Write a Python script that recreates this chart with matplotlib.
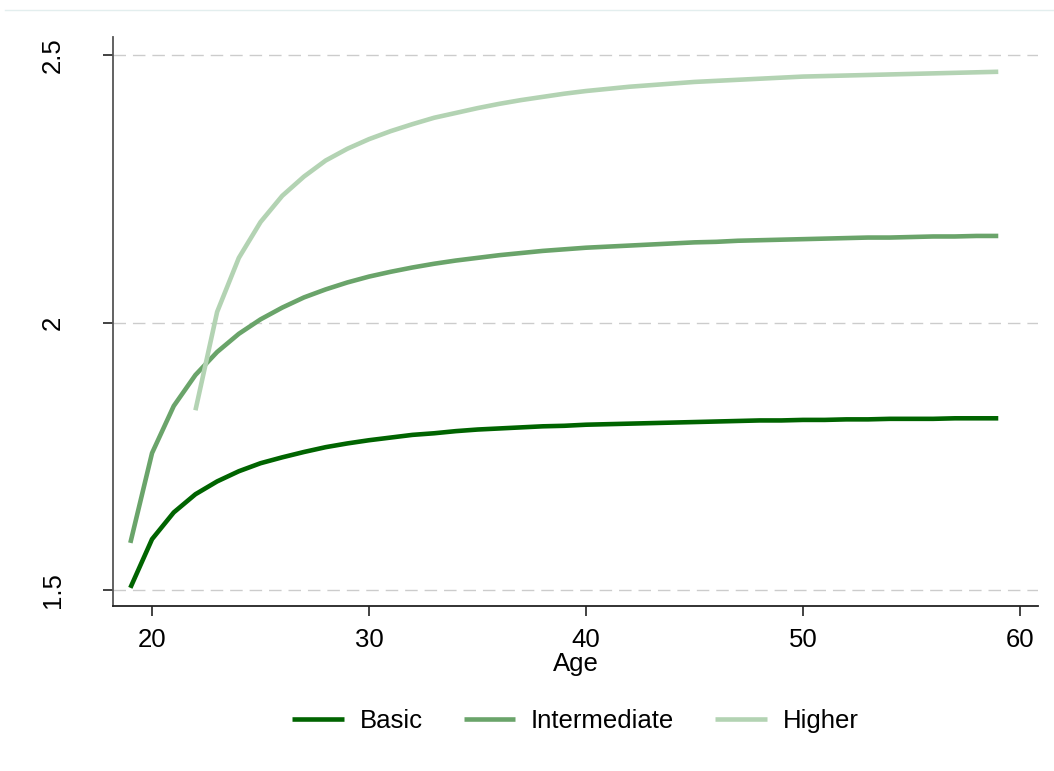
import matplotlib.pyplot as plt
from matplotlib.lines import Line2D

plt.rcParams['font.family'] = ['Liberation Sans', 'DejaVu Sans']

ages = list(range(19, 60))
ages_higher = list(range(22, 60))

basic = [1.504, 1.595, 1.645, 1.679, 1.703, 1.722, 1.737, 1.748, 1.758, 1.767,
         1.774, 1.780, 1.785, 1.790, 1.793, 1.797, 1.800, 1.802, 1.804, 1.806,
         1.807, 1.809, 1.810, 1.811, 1.812, 1.813, 1.814, 1.815, 1.816, 1.817,
         1.817, 1.818, 1.818, 1.819, 1.819, 1.820, 1.820, 1.820, 1.821, 1.821,
         1.821]
intermediate = [1.588, 1.756, 1.844, 1.902, 1.945, 1.979, 2.006, 2.028, 2.047, 2.062,
                2.075, 2.086, 2.095, 2.103, 2.110, 2.116, 2.121, 2.126, 2.130, 2.134,
                2.137, 2.140, 2.142, 2.144, 2.146, 2.148, 2.150, 2.151, 2.153, 2.154,
                2.155, 2.156, 2.157, 2.158, 2.159, 2.159, 2.160, 2.161, 2.161, 2.162,
                2.162]
higher = [1.836, 2.020, 2.121, 2.188, 2.237, 2.273, 2.303, 2.325, 2.343, 2.358,
          2.371, 2.383, 2.392, 2.401, 2.409, 2.416, 2.422, 2.428, 2.433, 2.437,
          2.441, 2.444, 2.447, 2.450, 2.452, 2.454, 2.456, 2.458, 2.460, 2.461,
          2.462, 2.463, 2.464, 2.465, 2.466, 2.467, 2.468, 2.469]

fig = plt.figure(figsize=(10.54, 7.71), dpi=100)
ax = fig.add_axes([0.1072, 0.214, 0.8776, 0.738])

# faint line along the top edge
fig.add_artist(Line2D([0.005, 1.0], [0.987, 0.987], color='#e3eeee', lw=1))

ax.plot(ages, basic, color='#006400', lw=3.3, label='Basic', solid_capstyle='butt')
ax.plot(ages, intermediate, color='#6aa46a', lw=3.3, label='Intermediate', solid_capstyle='butt')
ax.plot(ages_higher, higher, color='#b3d3b3', lw=3.3, label='Higher', solid_capstyle='butt')

ax.set_xlim(18.2, 60.83)
ax.set_ylim(1.470, 2.534)
ax.set_xticks([20, 30, 40, 50, 60])
ax.set_yticks([1.5, 2, 2.5])
ax.set_yticklabels(['1.5', '2', '2.5'], rotation=90, va='center')
ax.yaxis.grid(True, color='#cccccc', linestyle=(0, (9, 5)), lw=1)
ax.set_axisbelow(True)

for s in ['top', 'right']:
    ax.spines[s].set_visible(False)
ax.spines['left'].set_color('#555555')
ax.spines['bottom'].set_color('#222222')
ax.spines['left'].set_linewidth(1.3)
ax.spines['bottom'].set_linewidth(1.3)
ax.tick_params(axis='both', direction='out', length=7.5, width=1.2, labelsize=18.5, color='#222222')
ax.tick_params(axis='x', pad=8)
ax.tick_params(axis='y', pad=27)

ax.set_xlabel('Age', fontsize=18.5, labelpad=0)

fig.legend(loc='center', bbox_to_anchor=(0.546, 0.065), ncol=3, frameon=False,
           fontsize=18.5, handlelength=2.0, columnspacing=1.6, handletextpad=0.62)

plt.savefig('out.png', dpi=100)
